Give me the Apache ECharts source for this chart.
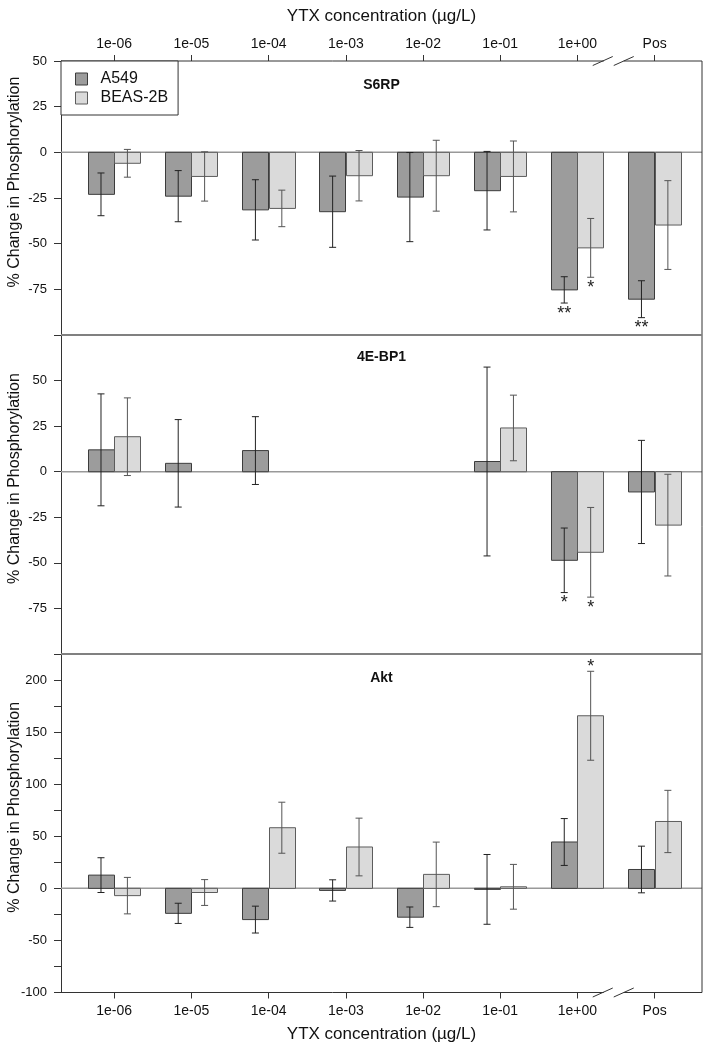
<!DOCTYPE html>
<html><head><meta charset="utf-8">
<script src="https://cdn.jsdelivr.net/npm/echarts@6/dist/echarts.min.js"></script>
<style>html,body{margin:0;padding:0;background:#fff}#c{width:713px;height:1046px}</style>
</head><body><div id="c"></div>
<script>
// ---------- data ----------
const categories = ['1e-06', '1e-05', '1e-04', '1e-03', '1e-02', '1e-01', '1e+00', 'Pos'];
const xTitle = 'YTX concentration (\u00b5g/L)';
const yTitle = '% Change in Phosphorylation';
const seriesNames = ['A549', 'BEAS-2B'];

// S6RP
const s6rpA549 = [-23, -24, -31.5, -32.5, -24.5, -21, -75.3, -80.4];
const s6rpA549Err = [11.7, 14, 16.5, 19.5, 24.4, 21.5, 7.2, 10.1];
const s6rpBeas = [-6, -13.2, -30.7, -12.8, -12.8, -13.2, -52.3, -39.8];
const s6rpBeasErr = [7.6, 13.5, 10, 13.8, 19.4, 19.4, 16.1, 24.3];
const s6rpSigA549 = ['', '', '', '', '', '', '**', '**'];
const s6rpSigBeas = ['', '', '', '', '', '', '*', ''];
const s6rpTicks = [50, 25, 0, -25, -50, -75];

// 4E-BP1
const bp1A549 = [12, 4.6, 11.6, null, null, 5.6, -48.6, -11.1];
const bp1A549Err = [30.7, 24, 18.6, null, null, 51.8, 17.7, 28.3];
const bp1Beas = [19.2, null, null, null, null, 24, -44.2, -29.3];
const bp1BeasErr = [21.3, null, null, null, null, 18, 24.6, 27.9];
const bp1SigA549 = ['', '', '', '', '', '', '*', ''];
const bp1SigBeas = ['', '', '', '', '', '', '*', ''];
const bp1Ticks = [50, 25, 0, -25, -50, -75];

// Akt
const aktA549 = [12.7, -24, -30, -2, -27.7, -1, 44.5, 18.1];
const aktA549Err = [16.7, 9.7, 12.9, 10.2, 9.8, 33.5, 22.5, 22.4];
const aktBeas = [-7, -4, 58.2, 39.7, 13.4, 1.5, 165.7, 64.2];
const aktBeasErr = [17.5, 12.4, 24.5, 27.7, 31, 21.5, 42.7, 29.9];
const aktSigA549 = ['', '', '', '', '', '', '', ''];
const aktSigBeas = ['', '', '', '', '', '', '*', ''];
const aktTicks = [200, 150, 100, 50, 0, -50, -100];

const panelTitles = ['S6RP', '4E-BP1', 'Akt'];

// ---------- layout / style ----------
const FONT = '"Liberation Sans", Arial, Helvetica, sans-serif';
const XMIN = 0.311, XMAX = 8.613, BAR_W = 0.342, BREAK_X = 7.47;
const FILL_A = '#9c9c9c', BORDER_A = '#3c3c3c', ERR_A = '#222';
const FILL_B = '#dadada', BORDER_B = '#5c5c5c', ERR_B = '#555';

const panels = [
  {title: panelTitles[0], a: s6rpA549, ae: s6rpA549Err, b: s6rpBeas, be: s6rpBeasErr, sa: s6rpSigA549, sb: s6rpSigBeas, ticks: s6rpTicks, min: -100, max: 50, top: 61, height: 274},
  {title: panelTitles[1], a: bp1A549, ae: bp1A549Err, b: bp1Beas, be: bp1BeasErr, sa: bp1SigA549, sb: bp1SigBeas, ticks: bp1Ticks, min: -100, max: 75, top: 335, height: 319},
  {title: panelTitles[2], a: aktA549, ae: aktA549Err, b: aktBeas, be: aktBeasErr, sa: aktSigA549, sb: aktSigBeas, ticks: aktTicks, min: -100, max: 225, top: 654, height: 338.5}
];
const catPositions = categories.map((c, i) => i + 1);

function makeSeries(name, k, vals, errs, sigs, side, fill, border, errColor) {
  return {
    type: 'custom', name: name, xAxisIndex: k, yAxisIndex: k, z: 3,
    itemStyle: {color: fill, borderColor: border},
    data: vals.map((v, i) => [i + 1, v == null ? 0 : v, errs[i] == null ? 0 : errs[i]]),
    renderItem: function (params, api) {
      const i = params.dataIndex;
      if (vals[i] == null) return null;
      const x = api.value(0), v = api.value(1), e = api.value(2);
      const xl = side < 0 ? x - BAR_W : x;
      const p0 = api.coord([xl, 0]), p1 = api.coord([xl + BAR_W, v]);
      const cx = api.coord([xl + BAR_W / 2, v])[0];
      const yHi = api.coord([x, v + e])[1], yLo = api.coord([x, v - e])[1];
      const cap = 3.5;
      const ch = [
        {type: 'rect', shape: {x: Math.round(p0[0]) + 0.5, y: Math.min(p0[1], p1[1]), width: Math.round(p1[0] - p0[0]), height: Math.abs(p1[1] - p0[1])},
         style: {fill: fill, stroke: border, lineWidth: 1}},
        {type: 'line', shape: {x1: cx, y1: yHi, x2: cx, y2: yLo}, style: {stroke: errColor, lineWidth: 1}},
        {type: 'line', shape: {x1: cx - cap, y1: yHi, x2: cx + cap, y2: yHi}, style: {stroke: errColor, lineWidth: 1}},
        {type: 'line', shape: {x1: cx - cap, y1: yLo, x2: cx + cap, y2: yLo}, style: {stroke: errColor, lineWidth: 1}}
      ];
      if (sigs[i]) {
        const ty = v < 0 ? yLo + 10.7 : yHi - 4.7;
        ch.push({type: 'text', x: cx, y: ty, style: {text: sigs[i], font: '18px ' + FONT, fill: '#222', align: 'center', verticalAlign: 'middle'}});
      }
      return {type: 'group', children: ch};
    }
  };
}

const grid = panels.map(p => ({left: 61, right: 11, top: p.top, height: p.height}));
const xAxis = panels.map((p, k) => {
  const shown = k !== 1;
  return {
    gridIndex: k, type: 'value', min: XMIN, max: XMAX, show: shown,
    position: k === 0 ? 'top' : 'bottom',
    axisLine: {show: false, onZero: false},
    axisTick: {show: true, customValues: catPositions, length: 6, lineStyle: {color: '#333'}},
    axisLabel: {show: true, customValues: catPositions, formatter: v => categories[Math.round(v) - 1], fontSize: 14, fontFamily: FONT, color: '#111', margin: k === 0 ? 10 : 11.5},
    splitLine: {show: false},
    name: shown ? xTitle : '', nameLocation: 'middle', nameGap: k === 0 ? 36.5 : 33,
    nameTextStyle: {fontSize: 17, fontFamily: FONT, color: '#111'}
  };
});
const yAxis = panels.map((p, k) => ({
  gridIndex: k, type: 'value', min: p.min, max: p.max, interval: 25,
  axisLine: {show: true, onZero: false, lineStyle: {color: '#333', width: 1}},
  axisTick: {show: true, length: 7, lineStyle: {color: '#333'}},
  axisLabel: {margin: 14, fontSize: 13, fontFamily: FONT, color: '#111', showMinLabel: true, showMaxLabel: true,
    formatter: v => p.ticks.indexOf(v) >= 0 ? String(v) : ''},
  splitLine: {show: false}
}));
const series = [];
panels.forEach((p, k) => {
  series.push(makeSeries(seriesNames[0], k, p.a, p.ae, p.sa, -1, FILL_A, BORDER_A, ERR_A));
  series.push(makeSeries(seriesNames[1], k, p.b, p.be, p.sb, 1, FILL_B, BORDER_B, ERR_B));
});

const chart = echarts.init(document.getElementById('c'), null, {renderer: 'canvas'});
chart.setOption({
  animation: false,
  backgroundColor: '#fff',
  grid: grid, xAxis: xAxis, yAxis: yAxis, series: series,
  legend: {
    left: 61, top: 61, orient: 'vertical', itemWidth: 12, itemHeight: 12, itemGap: 3,
    padding: [10, 10, 9, 14], borderColor: '#333', borderWidth: 1, backgroundColor: '#fff', z: 10,
    textStyle: {fontSize: 16, fontFamily: FONT, color: '#111', padding: [0, 0, 0, 8]},
    data: [
      {name: seriesNames[0], icon: 'rect', itemStyle: {color: FILL_A, borderColor: BORDER_A, borderWidth: 1}},
      {name: seriesNames[1], icon: 'rect', itemStyle: {color: FILL_B, borderColor: BORDER_B, borderWidth: 1}}
    ]
  }
});

// ---------- frame, breaks, zero lines, titles ----------
const g = [];
const L = 61, R = 702;
const yTop = panels[0].top, yBot = panels[2].top + panels[2].height;
const cxBreak = chart.convertToPixel({xAxisIndex: 0}, BREAK_X);
function line(x1, y1, x2, y2, color, w, z) {
  g.push({type: 'line', z: z || 5, silent: true, shape: {x1, y1, x2, y2}, style: {stroke: color, lineWidth: w}});
}
[yTop, yBot].forEach(y => {
  line(L, y, cxBreak - 10, y, '#333', 1);
  line(cxBreak + 10, y, R, y, '#333', 1);
  line(cxBreak - 21, y + 4.5, cxBreak - 1, y - 4.5, '#333', 1);
  line(cxBreak, y + 4.5, cxBreak + 20, y - 4.5, '#333', 1);
});
line(R, yTop, R, yBot, '#333', 1);
line(L, panels[1].top, R, panels[1].top, '#808080', 2);
line(L, panels[2].top, R, panels[2].top, '#808080', 2);
panels.forEach((p, k) => {
  const y0 = chart.convertToPixel({yAxisIndex: k}, 0);
  line(L, y0, R, y0, '#999', 1.5, 1);
  g.push({type: 'text', silent: true, x: (L + R) / 2, y: p.top + (k === 1 ? 22 : 24),
    style: {text: p.title, font: 'bold 14px ' + FONT, fill: '#111', align: 'center', verticalAlign: 'middle'}});
  g.push({type: 'text', silent: true, x: 15, y: p.top + p.height / 2 - 16, rotation: Math.PI / 2,
    style: {text: yTitle, font: '16px ' + FONT, fill: '#111', align: 'center', verticalAlign: 'middle'}});
});
chart.setOption({graphic: g});
</script>
</body></html>
